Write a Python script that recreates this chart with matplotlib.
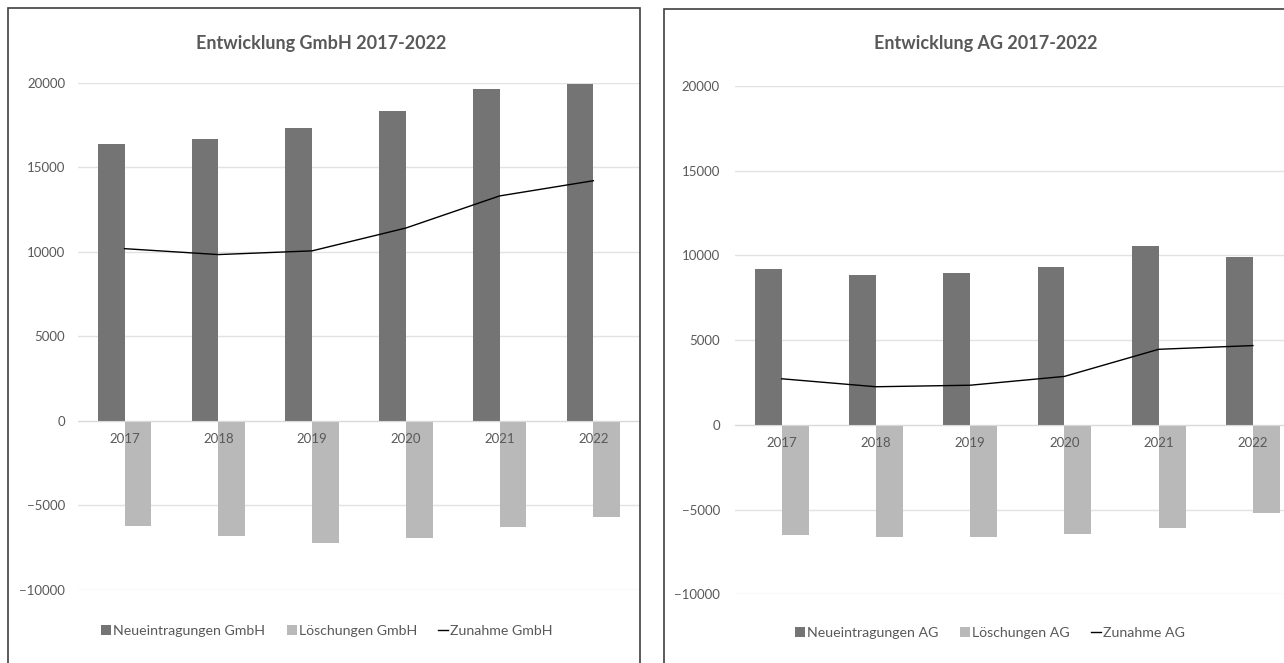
import numpy as np
import matplotlib
matplotlib.use('Agg')
import matplotlib.pyplot as plt
from matplotlib.patches import Rectangle

# ---------- DATEN ----------

years = ['2017', '2018', '2019', '2020', '2021', '2022']

gmbh_neu = [16400, 16650, 17300, 18350, 19600, 19950]
gmbh_loesch = [-6250, -6800, -7250, -6950, -6270, -5720]
gmbh_zunahme = [10180, 9830, 10050, 11400, 13300, 14200]

ag_neu = [9190, 8860, 8970, 9290, 10530, 9880]
ag_loesch = [-6490, -6630, -6630, -6430, -6060, -5220]
ag_zunahme = [2720, 2250, 2340, 2860, 4460, 4680]

DARK = '#747474'
LIGHT = '#b9b9b9'
TEXT = '#595959'
GRID = '#e2e2e2'

W, H = 1284, 663

plt.rcParams['font.family'] = ['Lato', 'DejaVu Sans']


def box(x0, y0, x1, y1):
    # Pixelkoordinaten (oben links) -> Figurenkoordinaten
    return [x0 / W, (H - y1) / H, (x1 - x0) / W, (y1 - y0) / H]


def draw_panel(fig, rect, neu, loesch, zunahme, name, title_xy, legend_xy,
               xmax=5.5, ypad=9):
    ax = fig.add_axes(rect)
    x = np.arange(len(years))
    w = 0.285

    b1 = ax.bar(x - w / 2, neu, width=w, color=DARK, zorder=2)
    b2 = ax.bar(x + w / 2, loesch, width=w, color=LIGHT, zorder=2)
    ln, = ax.plot(x, zunahme, color='black', linewidth=1.0, zorder=3)

    ax.set_xlim(-0.5, xmax)
    ax.set_ylim(-10000, 20000)
    ax.set_yticks(range(-10000, 20001, 5000))
    ax.set_xticks(x)
    ax.set_xticklabels(years)

    ax.grid(axis='y', color=GRID, linewidth=1.0, zorder=0)
    ax.set_axisbelow(True)
    for s in ['top', 'right', 'left']:
        ax.spines[s].set_visible(False)
    ax.spines['bottom'].set_position(('data', 0))
    ax.spines['bottom'].set_color('#d9d9d9')

    ax.tick_params(axis='y', length=0, pad=ypad, labelsize=9.5, labelcolor=TEXT)
    ax.tick_params(axis='x', length=0, pad=9, labelsize=9.5, labelcolor=TEXT)
    ax.xaxis.set_zorder(4)

    fig.text(title_xy[0] / W, 1 - title_xy[1] / H, f'Entwicklung {name} 2017-2022',
             ha='center', va='center', fontsize=13, fontweight='bold', color=TEXT)

    ax.legend([b1, b2, ln],
              [f'Neueintragungen {name}', f'Löschungen {name}', f'Zunahme {name}'],
              loc='center', bbox_to_anchor=(legend_xy[0] / W, 1 - legend_xy[1] / H),
              bbox_transform=fig.transFigure, ncol=3, frameon=False,
              handlelength=0.7, handleheight=0.7, handletextpad=0.15,
              columnspacing=1.5, fontsize=10.2, labelcolor=TEXT)
    return ax


fig = plt.figure(figsize=(W / 100, H / 100), dpi=100)

# Rahmen der beiden Diagramme
fig.patches.append(Rectangle((8 / W, -0.1), 632 / W, (H - 8) / H + 0.1,
                             transform=fig.transFigure, fill=False,
                             edgecolor='#404040', linewidth=1.2))
fig.patches.append(Rectangle((664 / W, -0.1), 660 / W, (H - 9) / H + 0.1,
                             transform=fig.transFigure, fill=False,
                             edgecolor='#404040', linewidth=1.2))

draw_panel(fig, box(77.7, 82.7, 640.2, 589.7), gmbh_neu, gmbh_loesch, gmbh_zunahme,
           'GmbH', (321, 43), (327, 631), ypad=9)
draw_panel(fig, box(734.6, 86, 1284, 594.3), ag_neu, ag_loesch, ag_zunahme,
           'AG', (986, 43), (990, 633), xmax=5.33, ypad=10.5)

fig.savefig('out.png', dpi=100)
